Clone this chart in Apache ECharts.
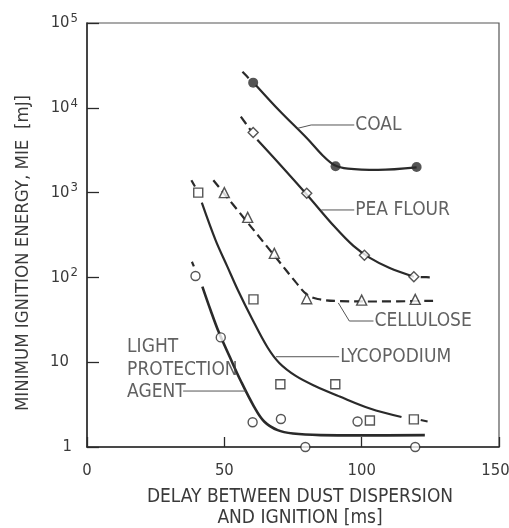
<!DOCTYPE html>
<html>
<head>
<meta charset="utf-8">
<script src="https://cdn.jsdelivr.net/npm/echarts@6/dist/echarts.min.js"></script>
<style>
  html, body { margin: 0; padding: 0; background: #fff; }
  #chart { width: 509px; height: 528px; }
</style>
</head>
<body>
<div id="chart"></div>
<script>
// Minimum ignition energy vs. delay between dust dispersion and ignition

// Measured points: [delay in ms, MIE in mJ]
const coalPoints = [[60.5, 19800], [90.5, 2050], [120, 2000]];
const peaFlourPoints = [[60.5, 5100], [80, 980], [101, 182], [119, 102]];
const cellulosePoints = [[50, 1000], [58.5, 510], [68.2, 192], [80, 56], [100, 54], [119.5, 55]];
const lycopodiumPoints = [[40.5, 1000], [60.6, 55], [70.4, 5.5], [90.4, 5.5], [103, 2.05], [119, 2.12]];
const lightAgentPoints = [[39.5, 104], [48.7, 19.6], [60.3, 1.96], [70.6, 2.14], [79.5, 1.0], [98.5, 2.0], [119.5, 1.0]];

// Fitted trend curves (solid parts) and their dashed lead-in / lead-out pieces
const coalCurve = [[61.5, 18500], [70, 9300], [80, 4400], [86, 2700], [90, 2120], [95, 1920], [106, 1850], [120, 1980]];
const coalDash = [[56.6, 26700], [59.3, 21500]];

const peaFlourCurve = [[62, 4200], [70, 2190], [80, 950], [90, 400], [97, 235], [103, 170], [110, 130], [119, 102]];
const peaFlourDash = [[56, 7850], [59.5, 5500]];
const peaFlourTail = [[121.5, 101], [125.5, 100]];

const celluloseCurve = [[46, 1400], [58, 463], [69, 168], [76, 88], [80, 63], [84, 55.6], [92, 52.5], [105, 52], [126, 53]];

const lycopodiumCurve = [[41.8, 760], [46.8, 275], [51.1, 134], [55, 70], [60, 33], [65.7, 15], [70, 9.8], [76, 6.9], [83, 5.25], [92, 3.94], [103, 2.85], [114.5, 2.26]];
const lycopodiumDash = [[38, 1400], [39.3, 1180]];
const lycopodiumTail = [[121.5, 2.08], [124, 2.0]];

const lightAgentCurve = [[42, 78], [45, 41], [48, 22.5], [52, 11.5], [56, 6], [60.8, 3.0], [64.5, 2.0], [69.4, 1.58], [75, 1.44], [85, 1.38], [100, 1.37], [123, 1.38]];
const lightAgentDash = [[38.2, 153], [38.9, 135]];

// Axis ticks
const xTicks = [0, 50, 100, 150];
const yExponents = [0, 1, 2, 3, 4, 5];

// Curve labels with leader lines, anchored in data space
const labelCoal = { text: 'COAL', leader: [[76.7, 5730], [81.6, 6270], [97.3, 6270]] };
const labelPea = { text: 'PEA FLOUR', leader: [[85.3, 624], [97.3, 624]] };
const labelCell = { text: 'CELLULOSE', leader: [[91.5, 50], [95.5, 30.6], [104.3, 30.6]] };
const labelLyco = { text: 'LYCOPODIUM', leader: [[68.8, 11.6], [91.8, 11.6]] };
const labelLight = { text: 'LIGHT\nPROTECTION\nAGENT', leader: [[35.0, 4.57], [57.8, 4.57]], anchor: [14.6, 8.1] };

const FONT = '"Liberation Sans Narrow", "DejaVu Sans Condensed", "Liberation Sans", sans-serif';
const INK = '#2a2a2a';
const TEXT = '#3a3a3a';
const FS = 19;
const TICK_FS = 16.5;

function curve(data, dashed, width) {
  return {
    type: 'line', data: data, smooth: 0.35, symbol: 'none', silent: true, z: 2,
    lineStyle: { color: INK, width: width || 2.2, type: dashed ? [9, 5] : 'solid' }
  };
}

function markers(data, symbol, size, filled) {
  return {
    type: 'scatter', data: data, symbol: symbol, symbolSize: size, z: 5,
    itemStyle: { color: filled ? INK : '#fff', borderColor: INK, borderWidth: filled ? 0 : 1.4 }
  };
}

function leaderLine(lbl) {
  return {
    type: 'line', data: lbl.leader, symbol: 'none', silent: true, z: 3,
    lineStyle: { color: '#555', width: 1 }
  };
}

// Text of each label, placed to the right of its anchor point
function labelText(lbl) {
  const at = lbl.anchor || lbl.leader[lbl.leader.length - 1];
  return {
    type: 'scatter', data: [at], symbolSize: 0, silent: true, z: 4,
    label: {
      show: true, position: 'right', distance: lbl.anchor ? 0 : 1,
      formatter: () => lbl.text,
      fontFamily: FONT, fontSize: FS, color: TEXT, align: 'left', lineHeight: 22.5
    }
  };
}

const chart = echarts.init(document.getElementById('chart'), null, { renderer: 'canvas' });

chart.setOption({
  animation: false,
  backgroundColor: '#fff',
  grid: {
    left: 87, right: 10, top: 23, bottom: 81, outerBoundsMode: 'none', containLabel: false,
    show: true, borderColor: '#555', borderWidth: 1.2
  },
  xAxis: {
    type: 'value', min: xTicks[0], max: xTicks[xTicks.length - 1], interval: 50,
    axisLine: { lineStyle: { color: INK, width: 1.5 } },
    axisTick: { inside: true, length: 10, lineStyle: { color: INK, width: 1.3 } },
    splitLine: { show: false },
    axisLabel: {
      margin: 15, fontFamily: FONT, fontSize: TICK_FS, color: TEXT,
      // the last label sits at the window edge, so nudge it slightly inward
      formatter: v => (v === xTicks[xTicks.length - 1] ? '{r|' + v + '}' : String(v)),
      rich: { r: { fontFamily: FONT, fontSize: TICK_FS, color: TEXT, padding: [0, 7, 0, 0] } }
    },
    name: 'DELAY BETWEEN DUST DISPERSION\nAND IGNITION [ms]',
    nameLocation: 'middle', nameGap: 40,
    nameTextStyle: { fontFamily: FONT, fontSize: FS, color: TEXT, lineHeight: 21, padding: [0, 0, 0, 14] }
  },
  yAxis: {
    type: 'log', logBase: 10, min: Math.pow(10, yExponents[0]), max: Math.pow(10, yExponents[yExponents.length - 1]),
    axisLine: { lineStyle: { color: INK, width: 1.5 } },
    axisTick: { inside: true, length: 12, lineStyle: { color: INK, width: 1.3 } },
    splitLine: { show: false },
    minorTick: { show: false },
    axisLabel: {
      margin: 9, fontFamily: FONT, fontSize: TICK_FS, color: TEXT,
      formatter: function (v) {
        const e = Math.round(Math.log10(v));
        if (e === 0) return '1{p| }';
        if (e === 1) return '10{q| }';
        return '10{s|' + e + '}';
      },
      rich: {
        s: { fontFamily: FONT, fontSize: 13, color: TEXT, padding: [0, 0, 9, 1] },
        p: { width: 6 },
        q: { width: 9 }
      }
    }
  },
  graphic: [{
    type: 'text', x: 23, y: 253, rotation: Math.PI / 2,
    style: {
      text: 'MINIMUM IGNITION ENERGY, MIE  [mJ]', fontFamily: FONT, fontSize: 18.5,
      fill: TEXT, align: 'center', verticalAlign: 'middle'
    }
  }],
  series: [
    curve(coalCurve), curve(coalDash, true),
    curve(peaFlourCurve), curve(peaFlourDash, true), curve(peaFlourTail, true),
    curve(celluloseCurve, true),
    curve(lycopodiumCurve), curve(lycopodiumDash, true), curve(lycopodiumTail, true),
    curve(lightAgentCurve, false, 2.6), curve(lightAgentDash, true),
    leaderLine(labelCoal), leaderLine(labelPea), leaderLine(labelCell), leaderLine(labelLyco), leaderLine(labelLight),
    labelText(labelCoal), labelText(labelPea), labelText(labelCell), labelText(labelLyco), labelText(labelLight),
    markers(coalPoints, 'circle', 10, true),
    markers(peaFlourPoints, 'diamond', 10, false),
    markers(cellulosePoints, 'triangle', 10, false),
    markers(lycopodiumPoints, 'rect', 9, false),
    markers(lightAgentPoints, 'circle', 9, false)
  ]
});
</script>
</body>
</html>
